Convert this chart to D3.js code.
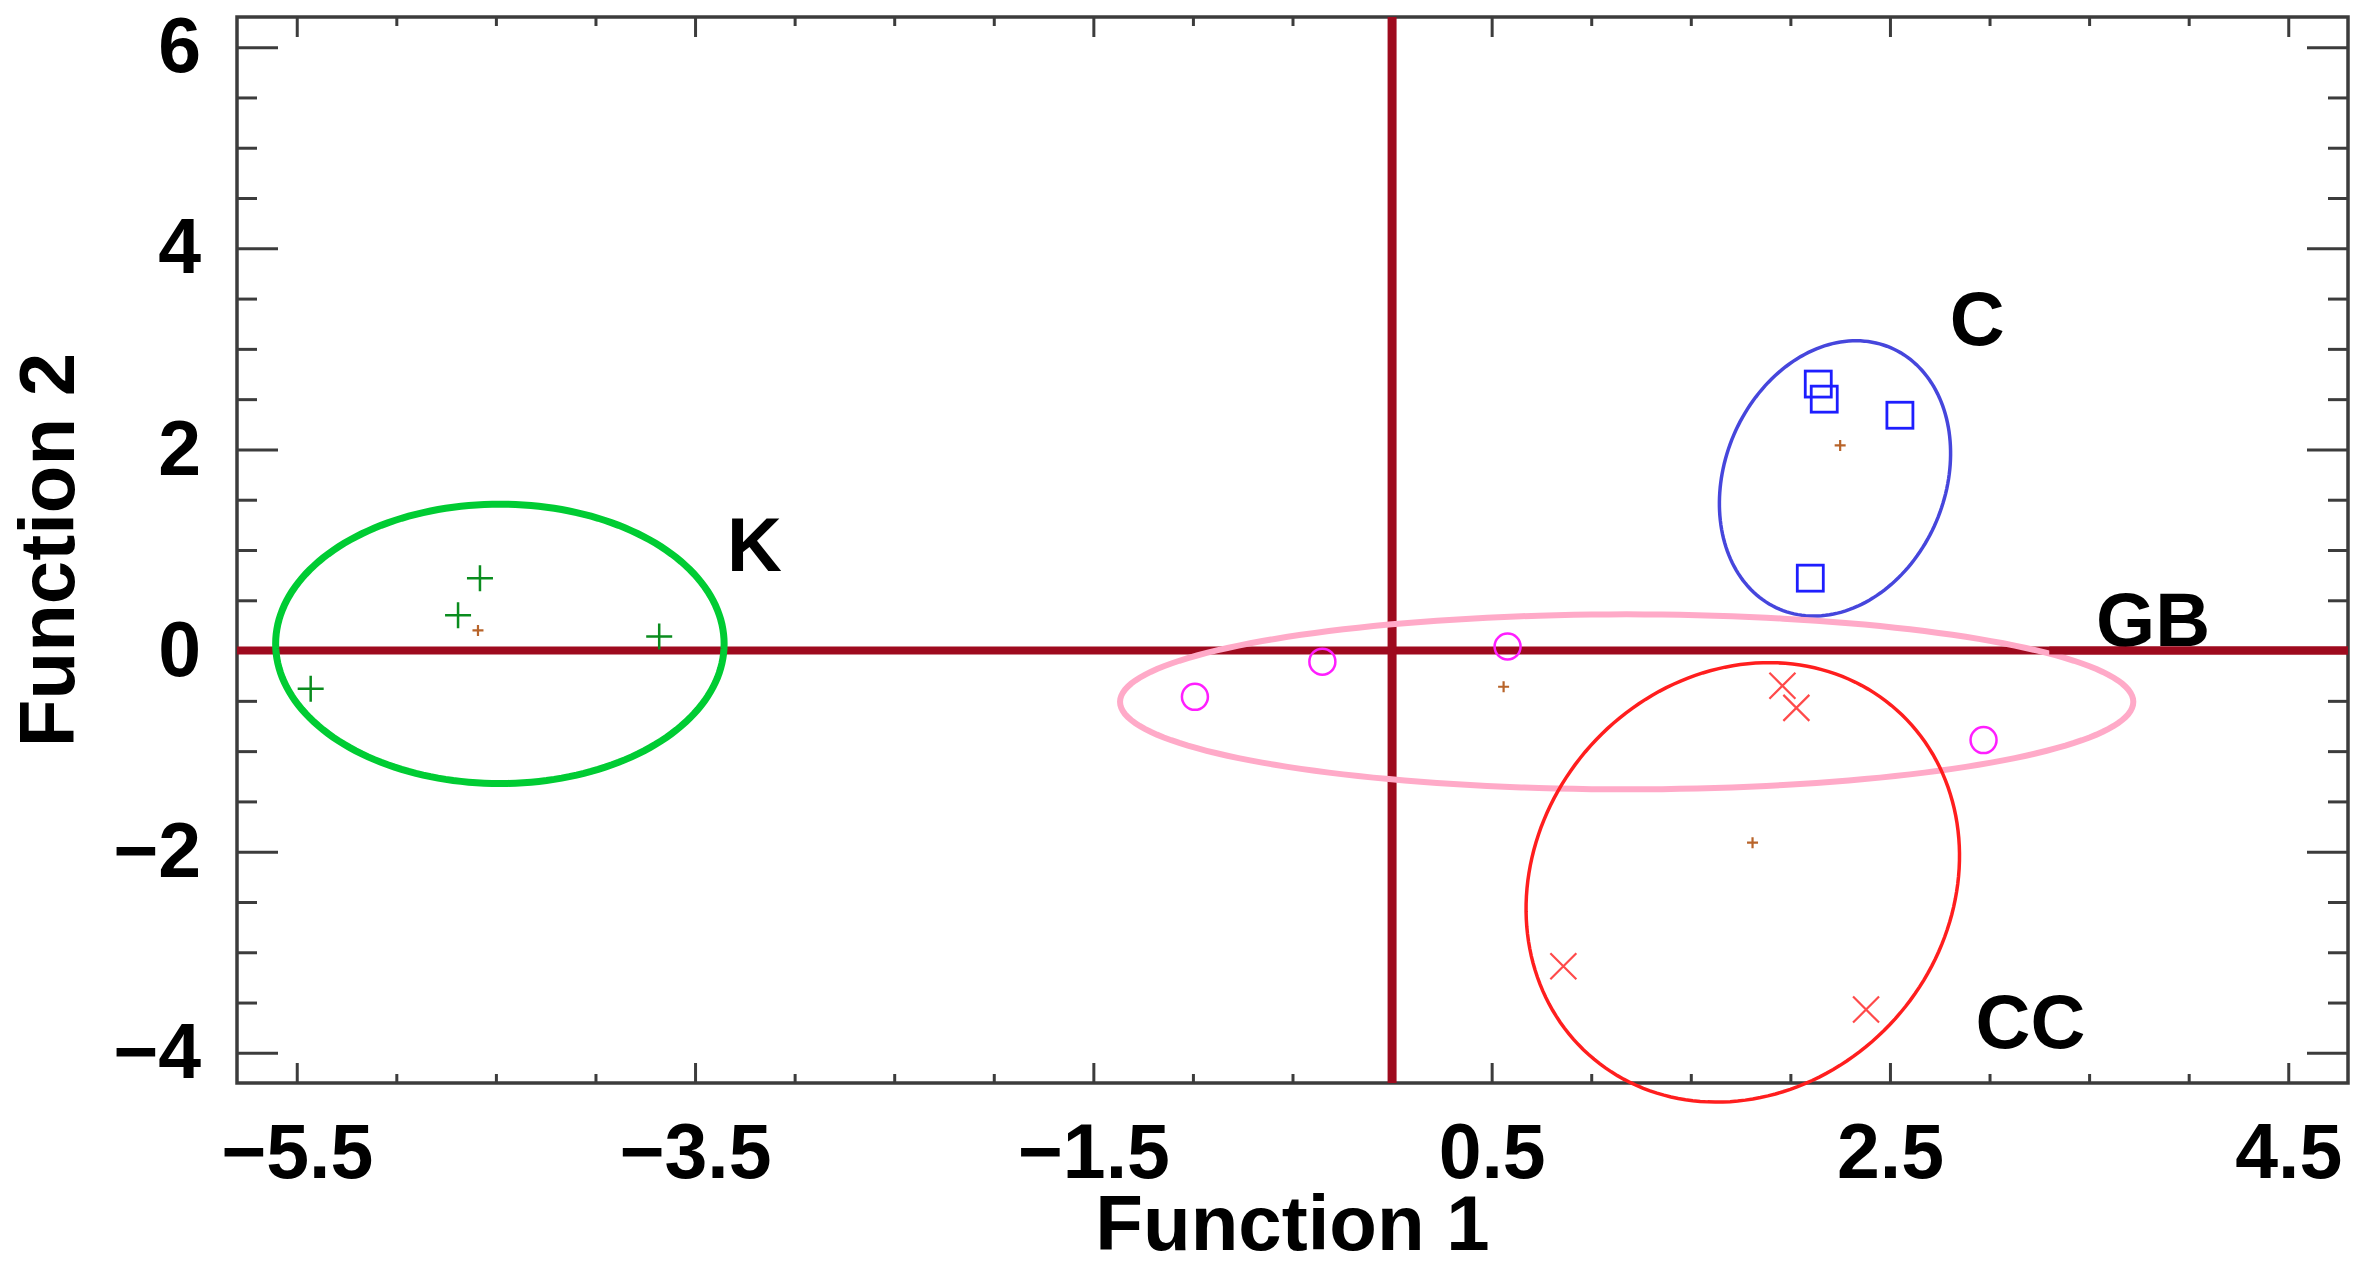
<!DOCTYPE html>
<html>
<head>
<meta charset="utf-8">
<script src="https://cdn.jsdelivr.net/npm/d3@7"></script>
<style>
  html, body { margin: 0; padding: 0; background: #ffffff; }
  svg { display: block; }
  text { font-family: "Liberation Sans", Arial, sans-serif; font-weight: bold; }
</style>
</head>
<body>
<div id="chart"></div>
<script>
// ---------------- data ----------------
const groupNames = ["K", "C", "GB", "CC"];

const kF1  = [-5.43, -4.69, -4.58, -3.68];
const kF2  = [-0.38,  0.35,  0.72,  0.14];
const cF1  = [ 2.14,  2.17,  2.55,  2.10];
const cF2  = [ 2.65,  2.50,  2.34,  0.72];
const gbF1 = [-0.99, -0.35,  0.58,  2.97];
const gbF2 = [-0.46, -0.11,  0.04, -0.89];
const ccF1 = [ 0.86,  1.96,  2.03,  2.38];
const ccF2 = [-3.14, -0.35, -0.57, -3.57];

// group centroids
const centroidF1 = [-4.59, 2.25,  0.56,  1.81];
const centroidF2 = [ 0.20, 2.04, -0.36, -1.91];

// hand-drawn ellipses around groups: centre and two conjugate semi-axes (data units)
const ellipseCx  = [-4.48, 2.224,  1.178,  1.761];
const ellipseCy  = [ 0.067, 1.712, -0.51, -2.305];
const ellipseUx  = [ 1.126, 0.509,  2.544,  0.765];
const ellipseUy  = [ 0.0,  -0.428,  0.0,   -1.357];
const ellipseVx  = [ 0.0,   0.279,  0.0,    0.774];
const ellipseVy  = [ 1.389, 1.300,  0.87,   1.712];

// group label anchor positions (data units)
const labelF1 = [-3.34, 2.80, 3.535, 2.93];
const labelF2 = [ 0.79, 3.04, 0.044, -3.955];

const xDomain = [-5.8, 4.8];
const yDomain = [-4.3, 6.3];
const xMajorTicks = [-5.5, -3.5, -1.5, 0.5, 2.5, 4.5];
const yMajorTicks = [-4, -2, 0, 2, 4, 6];
const xTitle = "Function 1";
const yTitle = "Function 2";

// ---------------- layout ----------------
const W = 2364, H = 1268;
const L = 237, R = 2348, T = 17, B = 1083;

const svg = d3.select("#chart").append("svg")
  .attr("width", W).attr("height", H)
  .attr("viewBox", `0 0 ${W} ${H}`);
svg.append("rect").attr("width", W).attr("height", H).attr("fill", "#fff");

const x = d3.scaleLinear().domain(xDomain).range([L, R]);
const y = d3.scaleLinear().domain(yDomain).range([B, T]);

const xMinor = d3.range(-5.5, 4.5001, 0.5).filter(v => !xMajorTicks.some(m => Math.abs(m - v) < 1e-6));
const yMinor = d3.range(-4, 6.0001, 0.5).filter(v => !yMajorTicks.some(m => Math.abs(m - v) < 1e-6));

const frameColor = "#3c3c3c";

// axes (ticks inward on all sides)
function addAxis(gen, tx, ty) {
  const g = svg.append("g").attr("transform", `translate(${tx},${ty})`).call(gen);
  g.select(".domain").remove();
  g.selectAll(".tick line").attr("stroke", frameColor).attr("stroke-width", 3);
  return g;
}
// bottom
const gxb = addAxis(d3.axisBottom(x).tickValues(xMajorTicks).tickSize(-20).tickPadding(40)
  .tickFormat(d => d3.format(".1f")(d).replace("-", "\u2212")), 0, B);
gxb.selectAll(".tick text").attr("font-size", 77).attr("fill", "#000")
  .attr("font-family", "'Liberation Sans', Arial, sans-serif").attr("font-weight", "bold");
addAxis(d3.axisBottom(x).tickValues(xMinor).tickSize(-9).tickFormat(""), 0, B);
// top
addAxis(d3.axisTop(x).tickValues(xMajorTicks).tickSize(-20).tickFormat(""), 0, T);
addAxis(d3.axisTop(x).tickValues(xMinor).tickSize(-9).tickFormat(""), 0, T);
// left
const gyl = addAxis(d3.axisLeft(y).tickValues(yMajorTicks).tickSize(-41).tickPadding(36)
  .tickFormat(d => String(d).replace("-", "\u2212")), L, 0);
gyl.selectAll(".tick text").attr("font-size", 77).attr("fill", "#000")
  .attr("font-family", "'Liberation Sans', Arial, sans-serif").attr("font-weight", "bold")
  .attr("x", -36);
addAxis(d3.axisLeft(y).tickValues(yMinor).tickSize(-20).tickFormat(""), L, 0);
// right
addAxis(d3.axisRight(y).tickValues(yMajorTicks).tickSize(-41).tickFormat(""), R, 0);
addAxis(d3.axisRight(y).tickValues(yMinor).tickSize(-20).tickFormat(""), R, 0);

// frame
svg.append("rect").attr("x", L).attr("y", T).attr("width", R - L).attr("height", B - T)
  .attr("fill", "none").attr("stroke", frameColor).attr("stroke-width", 3.5);

// axis titles
svg.append("text").attr("x", (L + R) / 2).attr("y", 1250).attr("text-anchor", "middle")
  .attr("font-size", 78).attr("fill", "#000").text(xTitle);
svg.append("text").attr("transform", `translate(74,${(T + B) / 2}) rotate(-90)`)
  .attr("text-anchor", "middle").attr("font-size", 78).attr("fill", "#000").text(yTitle);

const plot = svg.append("g");

// zero reference lines
const zeroColor = "#9e0a1e";
plot.append("line").attr("x1", L).attr("x2", R).attr("y1", y(0)).attr("y2", y(0))
  .attr("stroke", zeroColor).attr("stroke-width", 8);
plot.append("line").attr("x1", x(0)).attr("x2", x(0)).attr("y1", T).attr("y2", B)
  .attr("stroke", zeroColor).attr("stroke-width", 9);

// ellipses
const ellipseColors = ["#00cc33", "#4646dc", "#ffaac8", "#ff1e1e"];
const ellipseWidths = [7, 3.5, 6, 3.5];
const lineGen = d3.line().curve(d3.curveLinearClosed);
groupNames.forEach((g, i) => {
  const pts = d3.range(0, 360, 2).map(a => {
    const t = a * Math.PI / 180;
    const vx = ellipseCx[i] + ellipseUx[i] * Math.cos(t) + ellipseVx[i] * Math.sin(t);
    const vy = ellipseCy[i] + ellipseUy[i] * Math.cos(t) + ellipseVy[i] * Math.sin(t);
    return [x(vx), y(vy)];
  });
  plot.append("path").attr("d", lineGen(pts)).attr("fill", "none")
    .attr("stroke", ellipseColors[i]).attr("stroke-width", ellipseWidths[i]);
});

// markers
const S = 13; // half-size of markers in px
function drawPlus(g, px, py, s, color, w) {
  g.append("path").attr("d", `M${px - s},${py}H${px + s}M${px},${py - s}V${py + s}`)
    .attr("stroke", color).attr("stroke-width", w).attr("fill", "none");
}
// K: plus
kF1.forEach((v, i) => drawPlus(plot, x(v), y(kF2[i]), S, "#0a8c1e", 2.5));
// C: square
cF1.forEach((v, i) => {
  plot.append("rect").attr("x", x(v) - S).attr("y", y(cF2[i]) - S)
    .attr("width", 2 * S).attr("height", 2 * S)
    .attr("fill", "none").attr("stroke", "#1e1eff").attr("stroke-width", 2.8);
});
// GB: circle
gbF1.forEach((v, i) => {
  plot.append("circle").attr("cx", x(v)).attr("cy", y(gbF2[i])).attr("r", S)
    .attr("fill", "none").attr("stroke", "#ff1eff").attr("stroke-width", 2.5);
});
// CC: cross
ccF1.forEach((v, i) => {
  const px = x(v), py = y(ccF2[i]);
  plot.append("path").attr("d", `M${px - S},${py - S}L${px + S},${py + S}M${px - S},${py + S}L${px + S},${py - S}`)
    .attr("stroke", "#ff4a4a").attr("stroke-width", 2.2).attr("fill", "none");
});
// centroids
centroidF1.forEach((v, i) => drawPlus(plot, x(v), y(centroidF2[i]), 5.5, "#b8642a", 2.2));

// group labels
groupNames.forEach((g, i) => {
  plot.append("text").attr("x", x(labelF1[i])).attr("y", y(labelF2[i]))
    .attr("font-size", 76).attr("fill", "#000").text(g);
});
// keep the zero line drawn over the GB label like in the original
plot.append("line").attr("x1", x(3.3)).attr("x2", R).attr("y1", y(0)).attr("y2", y(0))
  .attr("stroke", zeroColor).attr("stroke-width", 8);
</script>
</body>
</html>
